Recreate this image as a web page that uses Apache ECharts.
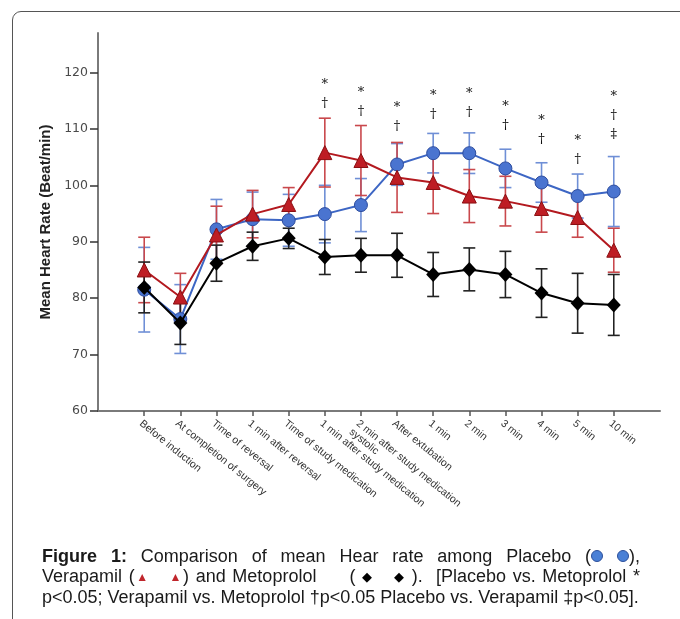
<!DOCTYPE html>
<html><head><meta charset="utf-8">
<script src="https://cdn.jsdelivr.net/npm/echarts@6/dist/echarts.min.js"></script>
<style>
html,body{margin:0;padding:0;background:#fff;width:680px;height:619px;overflow:hidden;}
#frame{position:absolute;left:12px;top:11px;width:720px;height:700px;border:1.5px solid #555;border-radius:9px;box-sizing:border-box;}
#chart{position:absolute;left:0;top:0;width:680px;height:619px;}
#cap{position:absolute;left:42px;top:546px;width:598px;font-family:"Liberation Sans",Arial,sans-serif;font-size:18px;line-height:20px;color:#1a1a1a;}
#cap div{text-align:justify;text-align-last:justify;white-space:nowrap;}
#cap div.last{text-align-last:left;}
.c{display:inline-block;width:10px;height:10px;border-radius:50%;background:#4a80d6;border:1px solid #2c4f9a;vertical-align:0px;}
.t{color:#c0262c;font-size:12px;vertical-align:1px;}
.d{color:#000;font-size:13px;vertical-align:1px;}
</style></head>
<body>
<div id="frame"></div>
<div id="chart"></div>
<div id="cap">
<div><b>Figure 1:</b> Comparison of mean Hear rate among Placebo (<span class="c"></span> <span class="c"></span>),</div>
<div>Verapamil (<span class="t">▲</span> &nbsp; <span class="t">▲</span>) and Metoprolol &nbsp; &nbsp; ( <span class="d">◆</span> &nbsp; <span class="d">◆</span> ). &nbsp;[Placebo vs. Metoprolol *</div>
<div class="last">p&lt;0.05; Verapamil vs. Metoprolol †p&lt;0.05 Placebo vs. Verapamil ‡p&lt;0.05].</div>
</div>
<script>
const categories = ['Before induction','At completion of surgery','Time of reversal','1 min after reversal','Time of study medication','1 min after study medication','2 min after study medication\nsystolic','After extubation','1 min','2 min','3 min','4 min','5 min','10 min'];
const placebo     = [81.5, 76.3, 92.2, 94.0, 93.8, 94.9, 96.5, 103.7, 105.7, 105.7, 103.0, 100.5, 98.1, 98.9];
const placeboSD   = [7.5, 6.1, 5.3, 4.8, 4.6, 5.1, 4.7, 3.7, 3.5, 3.6, 3.4, 3.5, 3.9, 6.2];
const verapamil   = [85.0, 80.2, 91.2, 94.9, 96.6, 105.8, 104.4, 101.4, 100.5, 98.1, 97.2, 95.9, 94.3, 88.5];
const verapamilSD = [5.8, 4.2, 5.1, 4.2, 3.0, 6.1, 6.2, 6.2, 5.5, 4.7, 4.4, 4.2, 3.5, 3.9];
const metoprolol  = [81.9, 75.6, 86.2, 89.2, 90.6, 87.3, 87.6, 87.6, 84.2, 85.1, 84.2, 80.9, 79.1, 78.8];
const metoprololSD= [4.5, 3.8, 3.2, 2.5, 1.8, 3.1, 3.0, 3.9, 3.9, 3.8, 4.1, 4.3, 5.3, 5.4];
const sigText = ['', '', '', '', '', '*\n†', '*\n†', '*\n†', '*\n†', '*\n†', '*\n†', '*\n†', '*\n†', '*\n†\n‡'];
const sigY    = [0, 0, 0, 0, 0, 117.9, 116.6, 113.8, 116.0, 116.3, 114.0, 111.5, 108.1, 115.8];
const yTicks  = [60, 70, 80, 90, 100, 110, 120];

const idx = categories.map((c, i) => i);
const chart = echarts.init(document.getElementById('chart'), null, {renderer: 'canvas'});

function errSeries(vals, sds, color, z) {
  return {
    type: 'custom', z: z, silent: true,
    data: vals.map((v, i) => [i, v, sds[i]]),
    encode: {x: 0, y: 1},
    renderItem: function (params, api) {
      const x = api.value(0), m = api.value(1), s = api.value(2);
      const top = api.coord([x, m + s]);
      const bot = api.coord([x, m - s]);
      const w = 6;
      const st = {stroke: color, lineWidth: 1.6};
      return {type: 'group', children: [
        {type: 'line', shape: {x1: top[0], y1: top[1], x2: bot[0], y2: bot[1]}, style: st},
        {type: 'line', shape: {x1: top[0] - w, y1: top[1], x2: top[0] + w, y2: top[1]}, style: st},
        {type: 'line', shape: {x1: bot[0] - w, y1: bot[1], x2: bot[0] + w, y2: bot[1]}, style: st}
      ]};
    }
  };
}

const option = {
  animation: false,
  grid: {left: 98, right: 20, top: 33, bottom: 208, containLabel: false},
  xAxis: {
    type: 'value', min: -1.28, max: 14.28,
    splitLine: {show: false},
    axisLine: {show: true, onZero: false, lineStyle: {color: '#7a7a7a', width: 2}},
    axisTick: {show: true, customValues: idx, length: 5, lineStyle: {color: '#555', width: 1.5}},
    axisLabel: {
      customValues: idx, rotate: -39, margin: 7, verticalAlign: 'top',
      fontFamily: 'Liberation Sans', fontSize: 10.5, color: '#333', lineHeight: 11,
      formatter: v => categories[Math.round(v)]
    }
  },
  yAxis: {
    type: 'value', min: 60, max: 127,
    name: 'Mean Heart Rate (Beat/min)', nameLocation: 'middle', nameGap: 44, nameRotate: 90,
    nameTextStyle: {fontFamily: 'Liberation Sans', fontSize: 15, fontWeight: 'bold', color: '#222'},
    splitLine: {show: false},
    axisLine: {show: true, onZero: false, lineStyle: {color: '#7a7a7a', width: 2}},
    axisTick: {show: true, customValues: yTicks, length: 8, lineStyle: {color: '#333', width: 1.5}},
    axisLabel: {customValues: yTicks, margin: 10, fontFamily: 'DejaVu Sans', fontSize: 12.5, color: '#4a4a4a'}
  },
  series: [
    errSeries(placebo, placeboSD, '#6f8fd6', 2),
    errSeries(verapamil, verapamilSD, '#c9484c', 3),
    errSeries(metoprolol, metoprololSD, '#222', 4),
    {type: 'line', z: 5, data: placebo.map((v, i) => [i, v]), symbol: 'circle', symbolSize: 13,
     lineStyle: {color: '#3d66c4', width: 2}, itemStyle: {color: '#4a74d0', borderColor: '#2d4c9e', borderWidth: 1}},
    {type: 'line', z: 6, data: verapamil.map((v, i) => [i, v]), symbol: 'triangle', symbolSize: 14,
     lineStyle: {color: '#b3191f', width: 2}, itemStyle: {color: '#be1d24', borderColor: '#8a0f12', borderWidth: 1}},
    {type: 'line', z: 7, data: metoprolol.map((v, i) => [i, v]), symbol: 'diamond', symbolSize: [14, 15],
     lineStyle: {color: '#000', width: 2}, itemStyle: {color: '#000'}},
    {type: 'custom', z: 8, silent: true,
     data: sigText.map((t, i) => [i, sigY[i], t]).filter(d => d[2] !== ''),
     encode: {x: 0, y: 1},
     renderItem: function (params, api) {
       const p = api.coord([api.value(0), api.value(1)]);
       const t = sigText[api.value(0)];
       return {type: 'text', x: p[0], y: p[1] - 9,
         style: {text: t, fill: '#111', font: '13px "DejaVu Serif"', lineHeight: 19, align: 'center', verticalAlign: 'top'}};
     }}
  ]
};
chart.setOption(option);
</script>
</body></html>
